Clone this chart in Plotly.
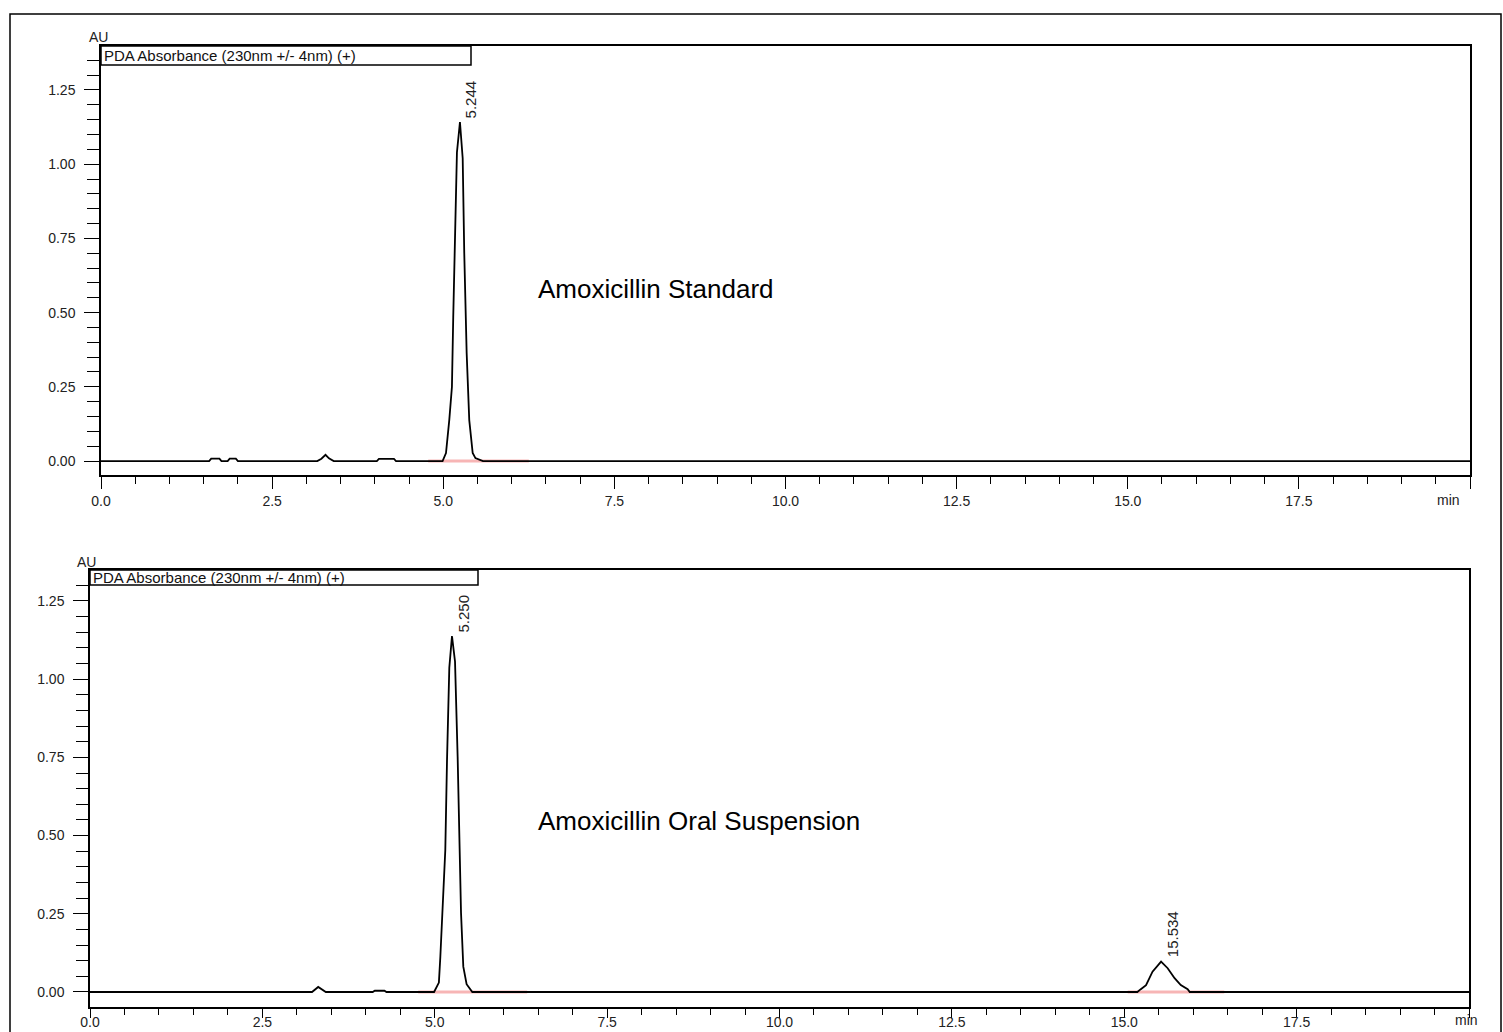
import plotly.graph_objects as go

W, H = 1503, 1032

# ---------------- data ----------------
# Chromatogram 1: Amoxicillin Standard  (time in min, absorbance in AU)
std_time = [0.0, 1.58, 1.61, 1.73, 1.76, 1.85, 1.88, 1.97, 2.00,
            3.16, 3.22, 3.28, 3.33, 3.40, 4.03, 4.06, 4.28, 4.31,
            4.99, 5.04, 5.088, 5.127, 5.146, 5.181, 5.20, 5.244,
            5.284, 5.307, 5.342, 5.38, 5.43, 5.47, 5.52, 5.58, 20.0]
std_au = [0.0, 0.0, 0.008, 0.008, 0.0, 0.0, 0.008, 0.008, 0.0,
          0.0, 0.008, 0.021, 0.009, 0.0, 0.0, 0.007, 0.007, 0.0,
          0.0, 0.027, 0.138, 0.25, 0.485, 0.81, 1.04, 1.142,
          1.02, 0.70, 0.364, 0.138, 0.027, 0.010, 0.006, 0.0, 0.0]
std_peak_rt = [5.244]
std_peak_au = [1.142]
std_peak_label = ["5.244"]
std_baseline_start = [4.78]
std_baseline_end = [6.25]

# Chromatogram 2: Amoxicillin Oral Suspension
sus_time = [0.0, 3.22, 3.31, 3.38, 3.42, 4.10, 4.13, 4.27, 4.30,
            4.99, 5.06, 5.081, 5.114, 5.153, 5.178, 5.211, 5.25,
            5.294, 5.332, 5.356, 5.381, 5.414, 5.462, 5.545,
            15.19, 15.24, 15.316, 15.41, 15.534, 15.63, 15.73, 15.82, 15.92, 15.95, 20.0]
sus_au = [0.0, 0.0, 0.016, 0.004, 0.0, 0.0, 0.004, 0.004, 0.0,
          0.0, 0.03, 0.112, 0.272, 0.454, 0.742, 1.036, 1.138,
          1.056, 0.752, 0.454, 0.253, 0.081, 0.025, 0.0,
          0.0, 0.009, 0.022, 0.065, 0.097, 0.076, 0.044, 0.022, 0.009, 0.0, 0.0]
sus_peak_rt = [5.250, 15.534]
sus_peak_au = [1.138, 0.097]
sus_peak_label = ["5.250", "15.534"]
sus_baseline_start = [4.76, 15.05]
sus_baseline_end = [6.34, 16.45]

x_tickvals = [0, 2.5, 5.0, 7.5, 10.0, 12.5, 15.0, 17.5, 20.0]
x_ticktext = ["0.0", "2.5", "5.0", "7.5", "10.0", "12.5", "15.0", "17.5", ""]
x_unit_label = "min"
y_tickvals = [0.0, 0.25, 0.50, 0.75, 1.00, 1.25]
y_ticktext = ["0.00", "0.25", "0.50", "0.75", "1.00", "1.25"]

channel_label = "PDA Absorbance (230nm +/- 4nm) (+)"
sample_names = ["Amoxicillin Standard", "Amoxicillin Oral Suspension"]

# ---------------- helpers ----------------
def px(x):
    return x / W

def py(y):
    return 1 - y / H

FAM = "Liberation Sans, Arial, sans-serif"
TICKFONT = dict(family=FAM, size=14, color="#222")
BASE_RED = "rgba(240,120,120,0.55)"

fig = go.Figure()

panels = [
    dict(xa="x", ya="y", t=std_time, a=std_au, rt=std_peak_rt, pau=std_peak_au,
         lab=std_peak_label, bs=std_baseline_start, be=std_baseline_end),
    dict(xa="x2", ya="y2", t=sus_time, a=sus_au, rt=sus_peak_rt, pau=sus_peak_au,
         lab=sus_peak_label, bs=sus_baseline_start, be=sus_baseline_end),
]

for p in panels:
    for s, e in zip(p["bs"], p["be"]):
        fig.add_trace(go.Scatter(x=[s, e], y=[0, 0], mode="lines",
                                 line=dict(color=BASE_RED, width=3),
                                 xaxis=p["xa"], yaxis=p["ya"], showlegend=False,
                                 hoverinfo="skip"))
    fig.add_trace(go.Scatter(x=p["t"], y=p["a"], mode="lines",
                             line=dict(color="black", width=1.8),
                             xaxis=p["xa"], yaxis=p["ya"], showlegend=False))
    for rt, au, lab in zip(p["rt"], p["pau"], p["lab"]):
        fig.add_annotation(x=rt, y=au, xref=p["xa"], yref=p["ya"], text=lab,
                           textangle=-90, showarrow=False, xanchor="left",
                           yanchor="bottom", xshift=1, yshift=2,
                           font=dict(family=FAM, size=15, color="#222"))

# panel geometry (pixels)
geo = [
    dict(x0=101, x1=1470, y0=46, y1=475, yr=[-0.047, 1.398], box=(101, 471, 46, 65),
         au=(98, 37), name_y=289, xtl=12, xml=7, xso=0, unit=(1448, 500)),
    dict(x0=90, x1=1469, y0=570, y1=1007, yr=[-0.048, 1.349], box=(90, 478, 570, 585),
         au=(86, 562), name_y=821, xtl=9, xml=6, xso=-8, unit=(1466, 1020)),
]

axis_common = dict(showline=True, linecolor="black", linewidth=1.5, mirror=True,
                   showgrid=False, zeroline=False, ticks="outside", automargin=False,
                   tickcolor="black", tickwidth=1.3, tickfont=TICKFONT)

layout_axes = {}
for i, g in enumerate(geo):
    sfx = "" if i == 0 else str(i + 1)
    layout_axes["xaxis" + sfx] = dict(
        domain=[px(g["x0"]), px(g["x1"])], range=[0, 20], anchor="y" + sfx,
        tickvals=x_tickvals, ticktext=x_ticktext, ticklen=g["xtl"],
        ticklabelstandoff=g["xso"],
        minor=dict(dtick=0.5, tick0=0, ticklen=g["xml"], ticks="outside",
                   tickcolor="black", tickwidth=1.2),
        **axis_common)
    layout_axes["yaxis" + sfx] = dict(
        domain=[py(g["y1"]), py(g["y0"])], range=g["yr"], anchor="x" + sfx,
        tickvals=y_tickvals, ticktext=y_ticktext, ticklen=15, ticklabelstandoff=6,
        minor=dict(dtick=0.05, tick0=0, ticklen=12, ticks="outside",
                   tickcolor="black", tickwidth=1.2),
        **axis_common)

fig.update_layout(width=W, height=H,
                  margin=dict(l=0, r=0, t=0, b=0, pad=0, autoexpand=False),
                  autosize=False,
                  paper_bgcolor="white", plot_bgcolor="white", **layout_axes)

shapes = [dict(type="rect", xref="paper", yref="paper", x0=px(10), x1=px(1501),
               y0=-0.05, y1=py(14), line=dict(color="black", width=1.5))]
for i, g in enumerate(geo):
    bx0, bx1, by0, by1 = g["box"]
    shapes.append(dict(type="rect", xref="paper", yref="paper", x0=px(bx0), x1=px(bx1),
                       y0=py(by1), y1=py(by0), line=dict(color="black", width=1.5),
                       fillcolor="rgba(0,0,0,0)"))
    fig.add_annotation(xref="paper", yref="paper", x=px(bx0 + 1), y=py((by0 + by1) / 2),
                       text=channel_label, showarrow=False, xanchor="left",
                       yanchor="middle", font=dict(family=FAM, size=15, color="#111"))
    fig.add_annotation(xref="paper", yref="paper", x=px(g["au"][0]), y=py(g["au"][1]),
                       text="AU", showarrow=False, xanchor="center", yanchor="middle",
                       font=dict(family=FAM, size=14, color="#222"))
    fig.add_annotation(xref="paper", yref="paper", x=px(g["unit"][0]), y=py(g["unit"][1]),
                       text=x_unit_label, showarrow=False, xanchor="center",
                       yanchor="middle", font=TICKFONT)
    fig.add_annotation(xref="paper", yref="paper", x=px(536), y=py(g["name_y"]),
                       text=sample_names[i], showarrow=False, xanchor="left",
                       yanchor="middle", font=dict(family=FAM, size=26, color="black"))
fig.update_layout(shapes=shapes)

fig.write_html(
    "out.html",
    config={"responsive": False, "displayModeBar": False},
    post_script="document.body.style.margin='0';document.body.style.padding='0';"
                "document.body.style.overflow='hidden';"
                "document.documentElement.style.overflow='hidden';",
)
